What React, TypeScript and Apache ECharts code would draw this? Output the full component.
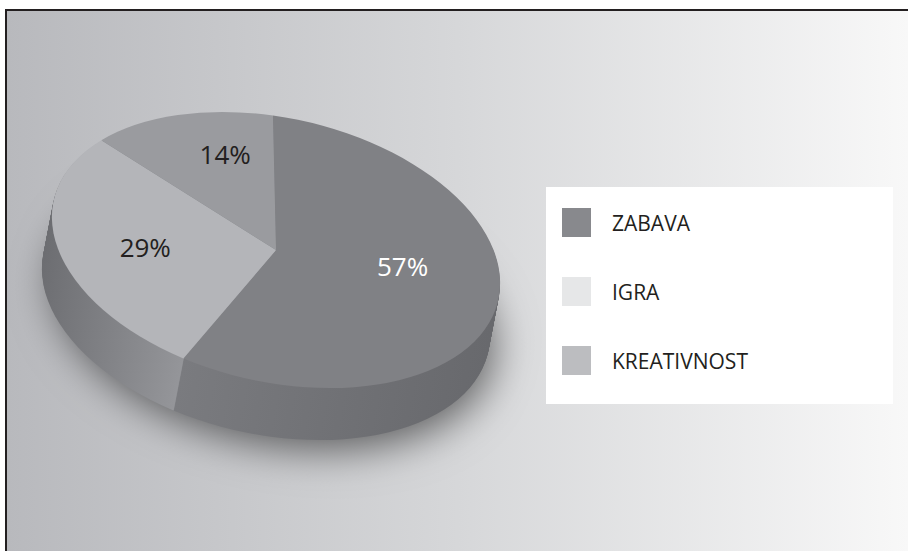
import React, { useEffect, useRef } from "react";
import * as echarts from "echarts";

const CATEGORIES = ["ZABAVA", "IGRA", "KREATIVNOST"];
const VALUES = [57, 29, 14];
const LABELS = ["57%", "29%", "14%"];

const LEGEND_COLORS = ["#88898d", "#e6e7e8", "#bcbdc0"];
const TOP_COLORS = ["#808185", "#b4b5b9", "#9a9b9f"];
const SIDE_COLORS = [
  ["#7a7b7f", "#68696d"],
  ["#6c6d71", "#a5a6aa"],
  ["#85868a", "#85868a"],
];
const LABEL_COLORS = ["#ffffff", "#231f20", "#231f20"];
// pixel nudges for the slice labels (layout only)
const LABEL_NUDGE: [number, number][] = [
  [-5, -20],
  [0, -2],
  [8, -15],
];

const DEG = Math.PI / 180;
const CX = 276;
const CY = 250;
const RX = 227.7;
const RY = 131.8;
const TILT = 12.7 * DEG;
const DEPTH = 52;
const DX = -10;
const START = -98.2 * DEG;
const LABEL_F = 0.6;

const TOTAL = VALUES.reduce((a, b) => a + b, 0);
const CUM: number[] = [];
VALUES.reduce((acc, v, i) => {
  CUM[i] = acc;
  return acc + v;
}, 0);

function place(angle: number, f: number): [number, number] {
  const x = RX * f * Math.cos(angle);
  const y = RY * f * Math.sin(angle);
  return [
    CX + x * Math.cos(TILT) - y * Math.sin(TILT),
    CY + x * Math.sin(TILT) + y * Math.cos(TILT),
  ];
}

function makeRenderItem(idx: number) {
  return (params: any, api: any) => {
    const v = api.value(0);
    const start = START + (CUM[idx] / TOTAL) * Math.PI * 2;
    const end = start + (v / TOTAL) * Math.PI * 2;
    const children: any[] = [];
    if (idx === 0) {
      children.push({
        type: "sector",
        x: CX + DX,
        y: CY + DEPTH,
        rotation: -TILT,
        scaleY: RY / RX,
        shape: { cx: 0, cy: 0, r: RX - 4, r0: 0, startAngle: 0, endAngle: Math.PI * 2, clockwise: true },
        style: {
          fill: "#8a8b8f",
          shadowBlur: 40,
          shadowColor: "rgba(0,0,0,0.55)",
          shadowOffsetX: 10,
          shadowOffsetY: 10,
        },
        z2: -10,
        silent: true,
      });
    }
    const side = SIDE_COLORS[idx];
    for (let k = DEPTH; k >= 1; k--) {
      children.push({
        type: "sector",
        x: CX + (DX * k) / DEPTH,
        y: CY + k,
        rotation: -TILT,
        scaleY: RY / RX,
        shape: { cx: 0, cy: 0, r: RX, r0: 0, startAngle: start, endAngle: end, clockwise: true },
        style: {
          fill: new echarts.graphic.LinearGradient(0, 0, 1, 0, [
            { offset: 0, color: side[0] },
            { offset: 1, color: side[1] },
          ]),
        },
        z2: DEPTH - k,
        silent: true,
      });
    }
    children.push({
      type: "sector",
      x: CX,
      y: CY,
      rotation: -TILT,
      scaleY: RY / RX,
      shape: { cx: 0, cy: 0, r: RX, r0: 0, startAngle: start, endAngle: end, clockwise: true },
      style: { fill: TOP_COLORS[idx] },
      z2: 200,
      silent: true,
    });
    const [lx, ly] = place((start + end) / 2, LABEL_F);
    children.push({
      type: "text",
      x: lx + LABEL_NUDGE[idx][0],
      y: ly + LABEL_NUDGE[idx][1],
      style: {
        text: LABELS[idx],
        fill: LABEL_COLORS[idx],
        fontSize: 26,
        fontFamily: "Open Sans",
        align: "center",
        verticalAlign: "middle",
      },
      z2: 400,
      silent: true,
    });
    return { type: "group", children };
  };
}

export default function App() {
  const ref = useRef<HTMLDivElement>(null);
  useEffect(() => {
    if (!ref.current) return;
    const chart = echarts.init(ref.current, null, { renderer: "svg" });
    const option: any = {
      animation: false,
      backgroundColor: "#ffffff",
      graphic: [
        {
          type: "rect",
          z: -10,
          shape: { x: 7, y: 11, width: 901, height: 540 },
          style: {
            fill: new echarts.graphic.LinearGradient(0, 0, 1, 0, [
              { offset: 0, color: "#b8b9bd" },
              { offset: 0.5, color: "#d6d7d9" },
              { offset: 1, color: "#f8f8f8" },
            ]),
          },
          silent: true,
        },
        {
          type: "line",
          z: -9,
          shape: { x1: 6, y1: 10, x2: 908, y2: 10 },
          style: { stroke: "#231f20", lineWidth: 2 },
          silent: true,
        },
        {
          type: "line",
          z: -9,
          shape: { x1: 6, y1: 9, x2: 6, y2: 551 },
          style: { stroke: "#231f20", lineWidth: 2 },
          silent: true,
        },
        {
          type: "rect",
          z: -8,
          shape: { x: 546, y: 187, width: 347, height: 217 },
          style: { fill: "#ffffff" },
          silent: true,
        },
      ],
      legend: {
        orient: "vertical",
        left: 562,
        top: 208,
        itemWidth: 29,
        itemHeight: 29,
        itemGap: 40,
        icon: "rect",
        selectedMode: false,
        padding: 0,
        data: CATEGORIES.map((c, i) => ({ name: c, itemStyle: { color: LEGEND_COLORS[i] } })),
        textStyle: {
          fontSize: 21,
          fontFamily: "Open Sans",
          color: "#231f20",
          padding: [0, 0, 0, 16],
        },
      },
      series: CATEGORIES.map((c, i) => ({
        type: "custom",
        name: c,
        coordinateSystem: "none",
        itemStyle: { color: LEGEND_COLORS[i] },
        renderItem: makeRenderItem(i),
        data: [[VALUES[i]]],
        silent: true,
      })),
    };
    chart.setOption(option);
    return () => chart.dispose();
  }, []);
  return (
    <div
      ref={ref}
      style={{ position: "fixed", left: 0, top: 0, width: 908, height: 551 }}
    />
  );
}
